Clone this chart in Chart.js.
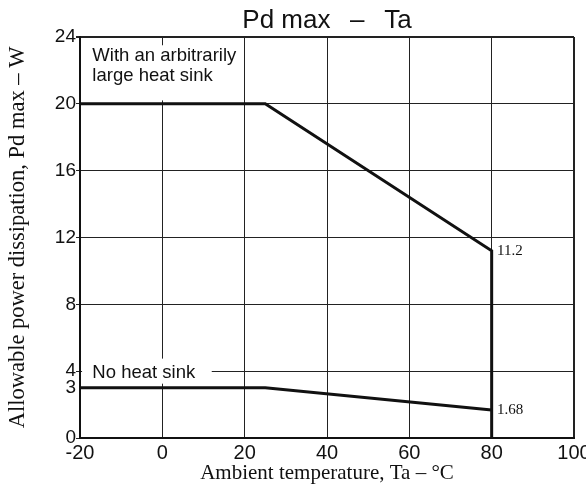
<!DOCTYPE html>
<html>
<head>
<meta charset="utf-8">
<script src="https://cdn.jsdelivr.net/npm/chart.js@4/dist/chart.umd.min.js"></script>
<style>
  html, body { margin: 0; padding: 0; background: #fff; }
  #wrap { width: 586px; height: 486px; }
</style>
</head>
<body>
<div id="wrap"><canvas id="c" width="586" height="486"></canvas></div>
<script>
// values
const heatSinkTa = [-20, 25, 80, 80];
const heatSinkPd = [20, 20, 11.2, 0];
const noSinkTa = [-20, 25, 80];
const noSinkPd = [3, 3, 1.68];
const yTickValues = [0, 3, 4, 8, 12, 16, 20, 24];
const endLabels = ['11.2', '1.68'];

const toPoints = (xs, ys) => xs.map((x, i) => ({ x: x, y: ys[i] }));

const SANS = '"Liberation Sans", Arial, sans-serif';
const SERIF = '"Liberation Serif", "Times New Roman", serif';

// white label boxes + text drawn inside the plot
const notes = {
    id: 'notes',
    beforeDatasetsDraw(chart) {
        const { ctx, scales: { x, y } } = chart;
        ctx.save();
        ctx.fillStyle = '#fff';
        // box over grid for the heat sink note
        ctx.fillRect(x.getPixelForValue(-19), y.getPixelForValue(23.5), x.getPixelForValue(19) - x.getPixelForValue(-19), y.getPixelForValue(20.2) - y.getPixelForValue(23.5));
        // box for "No heat sink"
        ctx.fillRect(x.getPixelForValue(-19.5), y.getPixelForValue(4.75), x.getPixelForValue(12) - x.getPixelForValue(-19.5), y.getPixelForValue(3.25) - y.getPixelForValue(4.75));
        ctx.fillStyle = '#111';
        ctx.font = '18.5px ' + SANS;
        ctx.textBaseline = 'alphabetic';
        ctx.textAlign = 'left';
        ctx.fillText('With an arbitrarily', x.getPixelForValue(-17), y.getPixelForValue(22.55));
        ctx.fillText('large heat sink', x.getPixelForValue(-17), y.getPixelForValue(21.35));
        ctx.fillText('No heat sink', x.getPixelForValue(-17), y.getPixelForValue(3.6));
        ctx.restore();
    },
    afterDatasetsDraw(chart) {
        const { ctx, scales: { x, y } } = chart;
        ctx.save();
        ctx.fillStyle = '#111';
        ctx.font = '15px ' + SERIF;
        ctx.textBaseline = 'middle';
        ctx.textAlign = 'left';
        ctx.fillText(endLabels[0], x.getPixelForValue(81.3), y.getPixelForValue(heatSinkPd[2]));
        ctx.fillText(endLabels[1], x.getPixelForValue(81.3), y.getPixelForValue(noSinkPd[2]));
        ctx.restore();
    }
};

new Chart(document.getElementById('c').getContext('2d'), {
    type: 'line',
    data: {
        datasets: [
            {
                label: 'With an arbitrarily large heat sink',
                data: toPoints(heatSinkTa, heatSinkPd),
                borderColor: '#111',
                borderWidth: 3,
                pointRadius: 0,
                fill: false,
                tension: 0
            },
            {
                label: 'No heat sink',
                data: toPoints(noSinkTa, noSinkPd),
                borderColor: '#111',
                borderWidth: 3,
                pointRadius: 0,
                fill: false,
                tension: 0
            }
        ]
    },
    options: {
        responsive: false,
        animation: false,
        layout: { padding: { left: 0, right: 12, top: 0, bottom: 0 } },
        plugins: {
            legend: { display: false },
            tooltip: { enabled: false },
            title: {
                display: true,
                text: 'Pd max  \u2009\u2013\u2009  Ta',
                fullSize: false,
                color: '#111',
                font: { family: SANS, size: 26, weight: 'normal', lineHeight: 1.15 },
                padding: { top: 6, bottom: 1 }
            }
        },
        scales: {
            x: {
                type: 'linear',
                min: -20,
                max: 100,
                afterFit: s => { s.height = 48; s.paddingLeft = 0; s.paddingRight = 0; },
                ticks: {
                    stepSize: 20,
                    color: '#111',
                    padding: 3,
                    font: { family: SANS, size: 20 }
                },
                grid: {
                    color: '#222',
                    lineWidth: c => (c.tick && c.tick.value === 100 ? 2 : 1),
                    drawTicks: false
                },
                border: { color: '#111', width: 2 },
                title: {
                    display: true,
                    text: 'Ambient temperature, Ta \u2013 \u00b0C',
                    color: '#111',
                    font: { family: SERIF, size: 21, lineHeight: 1.2 },
                    padding: { top: 1, bottom: 0 }
                }
            },
            y: {
                type: 'linear',
                min: 0,
                max: 24,
                afterBuildTicks: s => { s.ticks = yTickValues.map(v => ({ value: v })); },
                afterFit: s => { s.width = 80; s.paddingTop = 0; s.paddingBottom = 0; },
                ticks: {
                    color: '#111',
                    padding: 0,
                    font: { family: SANS, size: 19 }
                },
                grid: {
                    color: c => (c.tick && c.tick.value === 3 ? 'rgba(0,0,0,0)' : '#222'),
                    lineWidth: c => (c.tick && c.tick.value === 24 ? 2 : 1),
                    tickLength: 4
                },
                border: { color: '#111', width: 2 },
                title: {
                    display: true,
                    text: 'Allowable power dissipation, Pd max \u2013 W',
                    color: '#111',
                    font: { family: SERIF, size: 22.5, lineHeight: 1.2 },
                    padding: { top: 5, bottom: 0 }
                }
            }
        }
    },
    plugins: [notes]
});
</script>
</body>
</html>
